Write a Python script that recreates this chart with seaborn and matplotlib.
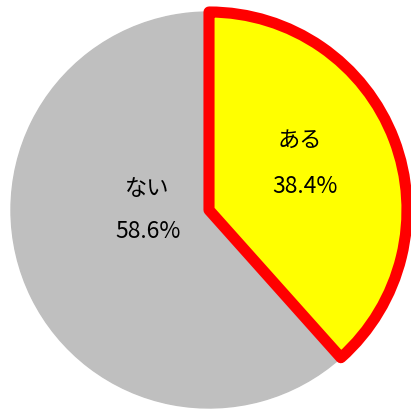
import matplotlib

matplotlib.use("Agg")
import matplotlib.pyplot as plt  # noqa: E402
import seaborn as sns  # noqa: E402

sns.set_theme(style="white")
plt.rcParams["font.family"] = ["Noto Sans CJK JP", "DejaVu Sans"]

categories = ["ある", "ない"]
values = [38.4, 58.6]
colors = ["#FFFF00", "#BFBFBF"]
# unlabeled remainder (no answer), drawn in the same grey as ない
rest = round(100 - sum(values), 1)

# label anchor points in pie radius units (name line, percent line)
name_pos = [(0.46, 0.354), (-0.313, 0.111)]
pct_pos = [(0.485, 0.121), (-0.308, -0.111)]

fig = plt.figure(figsize=(4.11, 4.09), dpi=100)
ax = fig.add_axes([11 / 411, 1 / 409, 396 / 411, 396 / 409])

wedges, _ = ax.pie(values + [rest], colors=colors + [colors[1]], startangle=90,
                   counterclock=False, wedgeprops=dict(linewidth=1))
for w in wedges[1:]:
    w.set_edgecolor(colors[1])
wedges[0].set_edgecolor("#FF0000")
wedges[0].set_linewidth(8)
wedges[0].set_joinstyle("round")
wedges[0].set_zorder(3)

for name, v, npos, ppos in zip(categories, values, name_pos, pct_pos):
    ax.text(*npos, name, ha="center", va="center", fontsize=16, color="black", zorder=5)
    ax.text(*ppos, f"{v:.1f}%", ha="center", va="center", fontsize=16.5, color="black", zorder=5)

ax.set_xlim(-1, 1)
ax.set_ylim(-1, 1)
ax.set_aspect("auto")
ax.axis("off")

fig.savefig("out.png", dpi=100)
